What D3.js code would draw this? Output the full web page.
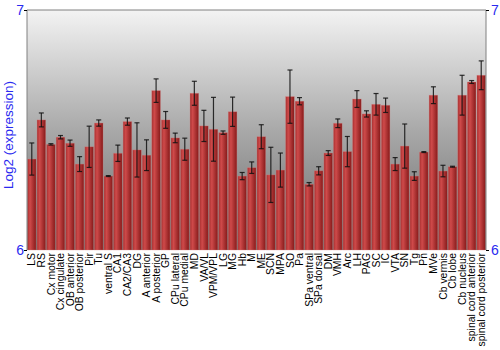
<!DOCTYPE html>
<html>
<head>
<meta charset="utf-8">
<script src="https://cdn.jsdelivr.net/npm/d3@7"></script>
<style>
  body { margin: 0; background: #fff; }
  svg { display: block; font-family: "Liberation Sans", Arial, sans-serif; }
</style>
</head>
<body>
<div id="chart"></div>
<script>
// Brain regions (x categories)
var regions = ["LS", "RS", "Cx motor", "Cx cingulate", "OB anterior", "OB posterior", "Pir", "Tu",
  "ventral S", "CA1", "CA2/CA3", "DG", "A anterior", "A posterior", "GP", "CPu lateral", "CPu medial",
  "MD", "VA/VL", "VPM/VPL", "LG", "MG", "Hb", "M", "ME", "SCN", "MPA", "SO", "Pa", "SPa ventral",
  "SPa dorsal", "DM", "VMH", "Arc", "LH", "PAG", "SC", "IC", "VTA", "SN", "Tg", "Pn", "MVe",
  "Cb vermis", "Cb lobe", "Cb nucleus", "spinal cord anterior", "spinal cord posterior"];

// Mean log2 expression per region
var means = [6.379, 6.542, 6.440, 6.470, 6.445, 6.358, 6.430, 6.529,
  6.308, 6.403, 6.535, 6.417, 6.395, 6.664, 6.542, 6.467, 6.420,
  6.653, 6.517, 6.503, 6.489, 6.576, 6.308, 6.343, 6.472, 6.313, 6.333, 6.639, 6.620, 6.274,
  6.330, 6.404, 6.528, 6.410, 6.629, 6.567, 6.607, 6.603, 6.358, 6.433, 6.308, 6.408, 6.645,
  6.329, 6.347, 6.645, 6.700, 6.728];

// Error (+/-) per region
var errors = [0.067, 0.029, 0.003, 0.007, 0.013, 0.031, 0.086, 0.013,
  0.002, 0.034, 0.015, 0.113, 0.064, 0.049, 0.035, 0.020, 0.046,
  0.050, 0.065, 0.133, 0.007, 0.061, 0.015, 0.024, 0.050, 0.115, 0.071, 0.111, 0.015, 0.007,
  0.017, 0.010, 0.018, 0.063, 0.035, 0.013, 0.045, 0.030, 0.027, 0.092, 0.018, 0.002, 0.035,
  0.024, 0.002, 0.083, 0.006, 0.060];

var yTicks = [6, 7];

var data = regions.map(function(r, i) { return {region: r, mean: means[i], err: errors[i]}; });

var W = 500, H = 350;
var pLeft = 27, pRight = 486, pTop = 10, pBottom = 250;
var blue = "#2a2af0";

var svg = d3.select("#chart").append("svg")
    .attr("width", W)
    .attr("height", H);

var defs = svg.append("defs");

// background gradient (light top, darker bottom)
var bg = defs.append("linearGradient").attr("id", "bg")
    .attr("x1", 0).attr("y1", 0).attr("x2", 0).attr("y2", 1);
bg.append("stop").attr("offset", "0%").attr("stop-color", "#f3f3f3");
bg.append("stop").attr("offset", "50%").attr("stop-color", "#a9a9a9");
bg.append("stop").attr("offset", "100%").attr("stop-color", "#6a6a6a");

// bar gradient (horizontal shading)
var bar = defs.append("linearGradient").attr("id", "bar")
    .attr("x1", 0).attr("y1", 0).attr("x2", 1).attr("y2", 0);
bar.append("stop").attr("offset", "0%").attr("stop-color", "#a83030");
bar.append("stop").attr("offset", "30%").attr("stop-color", "#cf4a4a");
bar.append("stop").attr("offset", "100%").attr("stop-color", "#861a1a");

var x = d3.scaleBand()
    .domain(regions)
    .range([pLeft, pRight])
    .paddingInner(0.1)
    .paddingOuter(0.05);

var y = d3.scaleLinear()
    .domain([6, 7])
    .range([pBottom, pTop]);

// plot background
svg.append("rect")
    .attr("x", pLeft).attr("y", pTop)
    .attr("width", pRight - pLeft).attr("height", pBottom - pTop)
    .attr("fill", "url(#bg)");

// bars
svg.selectAll("rect.bar")
    .data(data)
  .enter().append("rect")
    .attr("class", "bar")
    .attr("x", function(d) { return x(d.region); })
    .attr("width", x.bandwidth())
    .attr("y", function(d) { return y(d.mean); })
    .attr("height", function(d) { return pBottom - y(d.mean); })
    .attr("fill", "url(#bar)")
    .attr("stroke", "#d98080")
    .attr("stroke-opacity", 0.5)
    .attr("stroke-width", 0.6);

// error bars
var eb = svg.selectAll("g.err")
    .data(data)
  .enter().append("g")
    .attr("class", "err")
    .attr("stroke", "#111")
    .attr("stroke-opacity", 0.85)
    .attr("stroke-width", 1.2);

var cx = function(d) { return x(d.region) + x.bandwidth() / 2; };

eb.append("line")
    .attr("x1", cx).attr("x2", cx)
    .attr("y1", function(d) { return y(d.mean + d.err); })
    .attr("y2", function(d) { return y(d.mean - d.err); });
eb.append("line")
    .attr("x1", function(d) { return cx(d) - 2.5; })
    .attr("x2", function(d) { return cx(d) + 2.5; })
    .attr("y1", function(d) { return y(d.mean + d.err); })
    .attr("y2", function(d) { return y(d.mean + d.err); });
eb.append("line")
    .attr("x1", function(d) { return cx(d) - 2.5; })
    .attr("x2", function(d) { return cx(d) + 2.5; })
    .attr("y1", function(d) { return y(d.mean - d.err); })
    .attr("y2", function(d) { return y(d.mean - d.err); });

// frame: top, left, right
svg.append("path")
    .attr("d", "M" + pLeft + "," + pBottom + "V" + pTop + "H" + pRight + "V" + pBottom)
    .attr("fill", "none")
    .attr("stroke", "#808080")
    .attr("stroke-width", 1);

// Left axis
var yl = svg.append("g")
    .attr("transform", "translate(" + pLeft + ",0)")
    .call(d3.axisLeft(y).tickValues(yTicks).tickSize(3).tickFormat(d3.format("d")));
yl.select(".domain").remove();
yl.selectAll("text").attr("fill", blue).style("font-size", "14px").attr("x", -3);
yl.selectAll("line").attr("stroke", "#000");

// Right axis
var yr = svg.append("g")
    .attr("transform", "translate(" + pRight + ",0)")
    .call(d3.axisRight(y).tickValues(yTicks).tickSize(3).tickFormat(d3.format("d")));
yr.select(".domain").remove();
yr.selectAll("text").attr("fill", blue).style("font-size", "14px").attr("x", 5);
yr.selectAll("line").attr("stroke", "#000");

// X axis labels (rotated)
var xa = svg.append("g")
    .attr("transform", "translate(0," + pBottom + ")")
    .call(d3.axisBottom(x).tickSize(0));
xa.select(".domain").remove();
xa.selectAll("text")
    .style("font-size", "10.4px")
    .attr("fill", "#000")
    .style("text-anchor", "end")
    .attr("x", -3)
    .attr("y", 0)
    .attr("dy", ".35em")
    .attr("transform", "rotate(-90)");

// Y axis title
svg.append("text")
    .attr("transform", "translate(13," + ((pTop + pBottom) / 2 + 5) + ") rotate(-90)")
    .attr("text-anchor", "middle")
    .attr("fill", blue)
    .style("font-size", "13.5px")
    .text("Log2 (expression)");
</script>
</body>
</html>
